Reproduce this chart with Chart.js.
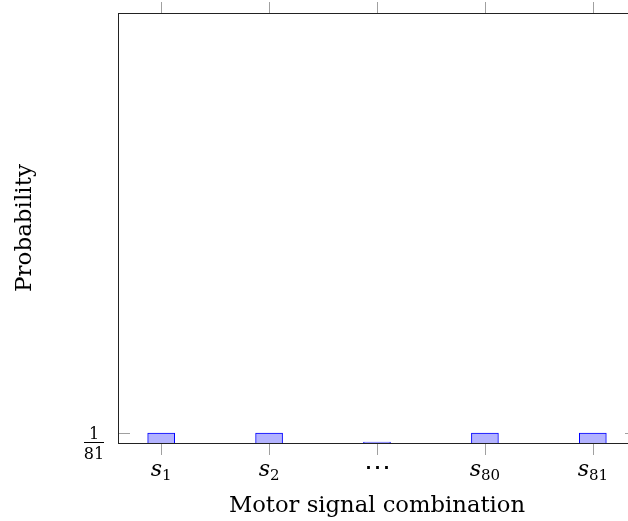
<!DOCTYPE html>
<html lang="en">
<head>
<meta charset="UTF-8">
<title>Motor signal combination</title>
<style>
    html, body { margin: 0; padding: 0; background: #fff; overflow: hidden; }
    .chart-container { position: relative; width: 650px; height: 521px; }
</style>
</head>
<body>
<div class="chart-container">
    <canvas id="probChart" width="650" height="521"></canvas>
</div>

<script src="https://cdn.jsdelivr.net/npm/chart.js"></script>
<script>
    // Categories on the x axis: base symbol + subscript
    const categories = ['s1', 's2', '⋯', 's80', 's81'];
    const tickBase = ['s', 's', '⋯', 's', 's'];
    const tickSub = ['1', '2', '', '80', '81'];

    // Probability of each motor signal combination
    const probabilities = [1 / 81, 1 / 81, 0, 1 / 81, 1 / 81];

    // Only one y tick, shown as a fraction
    const yTickValues = [1 / 81];
    const yTickNum = ['1'];
    const yTickDen = ['81'];

    const SERIF = "'DejaVu Serif', 'Liberation Serif', serif";

    // Draws the axis box, ticks and all labels in a TeX-like style
    const frameBox = {
        id: 'frameBox',
        beforeDatasetsDraw(chart) {
            const { ctx, chartArea: a, scales: { x, y } } = chart;
            ctx.save();
            ctx.strokeStyle = '#222';
            ctx.lineWidth = 1;
            ctx.strokeRect(a.left + 0.5, a.top + 0.5, a.right - a.left, a.bottom - a.top);

            ctx.strokeStyle = '#a0a0a0';
            categories.forEach((c, i) => {
                const px = Math.round(x.getPixelForValue(i)) + 0.5;
                ctx.beginPath();
                ctx.moveTo(px, a.bottom + 1);
                ctx.lineTo(px, a.bottom + 12);
                ctx.moveTo(px, a.top);
                ctx.lineTo(px, a.top - 11);
                ctx.stroke();
            });
            yTickValues.forEach(v => {
                const py = Math.round(y.getPixelForValue(v)) + 0.5;
                ctx.beginPath();
                ctx.moveTo(a.left + 1, py);
                ctx.lineTo(a.left + 12, py);
                ctx.moveTo(a.right, py);
                ctx.lineTo(a.right - 11, py);
                ctx.stroke();
            });
            ctx.restore();
        },
        afterDraw(chart) {
            const { ctx, chartArea: a, scales: { x, y } } = chart;
            ctx.save();
            ctx.fillStyle = '#000';
            ctx.textBaseline = 'alphabetic';

            // x tick labels
            categories.forEach((c, i) => {
                const px = x.getPixelForValue(i);
                if (!tickSub[i]) {
                    ctx.font = '27px ' + SERIF;
                    ctx.textAlign = 'center';
                    ctx.fillText(tickBase[i], px, a.bottom + 33);
                    return;
                }
                ctx.font = 'italic 22px ' + SERIF;
                const wb = ctx.measureText(tickBase[i]).width;
                ctx.font = '15px ' + SERIF;
                const ws = ctx.measureText(tickSub[i]).width;
                const start = px - (wb + ws) / 2;
                ctx.textAlign = 'left';
                ctx.font = 'italic 22px ' + SERIF;
                ctx.fillText(tickBase[i], start, a.bottom + 33);
                ctx.font = '15px ' + SERIF;
                ctx.fillText(tickSub[i], start + wb, a.bottom + 37);
            });

            // y tick labels as fractions
            yTickValues.forEach((v, i) => {
                const py = y.getPixelForValue(v);
                const cx = 94;
                ctx.font = '16px ' + SERIF;
                ctx.textAlign = 'center';
                ctx.fillText(yTickNum[i], cx, py + 6);
                ctx.fillText(yTickDen[i], cx, py + 26);
                ctx.fillRect(cx - 10, py + 9, 20, 1);
            });

            // axis titles
            ctx.font = '22.7px ' + SERIF;
            ctx.textAlign = 'center';
            ctx.fillText('Motor signal combination', x.getPixelForValue(2), a.bottom + 69);

            ctx.translate(31, (a.top + a.bottom) / 2);
            ctx.rotate(-Math.PI / 2);
            ctx.font = '23px ' + SERIF;
            ctx.fillText('Probability', 0, 0);
            ctx.restore();
        }
    };

    const ctx = document.getElementById('probChart').getContext('2d');
    new Chart(ctx, {
        type: 'bar',
        data: {
            datasets: [{
                label: 'Probability',
                data: probabilities.map((p, i) => ({ x: i, y: p })),
                backgroundColor: '#b3b3ff',
                borderColor: '#0000ff',
                borderWidth: 1,
                minBarLength: 1,
                barThickness: 27
            }]
        },
        options: {
            responsive: false,
            animation: false,
            layout: { padding: { left: 118, top: 13, right: 14, bottom: 78 } },
            plugins: {
                legend: { display: false },
                tooltip: { enabled: false }
            },
            scales: {
                x: { type: 'linear', min: -0.4, max: 4.4, offset: false, display: false },
                y: { min: 0, max: 0.531, display: false }
            }
        },
        plugins: [frameBox]
    });
</script>
</body>
</html>
